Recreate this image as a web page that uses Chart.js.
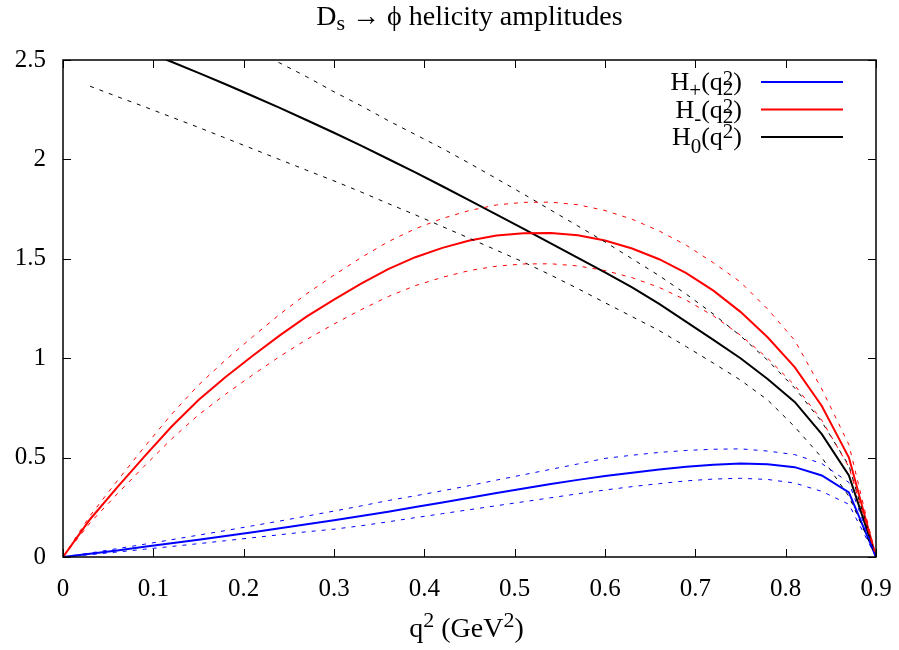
<!DOCTYPE html>
<html>
<head>
<meta charset="utf-8">
<style>
  html, body { margin: 0; padding: 0; background: #fff; }
  #wrap { width: 899px; height: 650px; }
</style>
<script src="https://cdn.jsdelivr.net/npm/chart.js@4/dist/chart.umd.min.js"></script>
</head>
<body>
<div id="wrap"><canvas id="chart" width="899" height="650"></canvas></div>
<script>
// q^2 grid (GeV^2)
const q2 = [0, 0.03, 0.06, 0.09, 0.12, 0.15, 0.18, 0.21, 0.24, 0.27, 0.30,
            0.33, 0.36, 0.39, 0.42, 0.45, 0.48, 0.51, 0.54, 0.57, 0.60,
            0.63, 0.66, 0.69, 0.72, 0.75, 0.78, 0.81, 0.84, 0.87, 0.90];

// H+ (blue) with upper / lower band
const hPlus = [0, 0.016, 0.033, 0.051, 0.069, 0.087, 0.106, 0.125, 0.145, 0.165, 0.185,
               0.206, 0.228, 0.251, 0.274, 0.298, 0.322, 0.345, 0.367, 0.388, 0.407,
               0.424, 0.440, 0.454, 0.464, 0.470, 0.467, 0.452, 0.410, 0.325, 0];
const hPlusHi = [0, 0.020, 0.042, 0.064, 0.087, 0.110, 0.133, 0.157, 0.181, 0.206, 0.231,
                 0.257, 0.284, 0.308, 0.333, 0.359, 0.387, 0.414, 0.441, 0.468, 0.496,
                 0.512, 0.526, 0.536, 0.542, 0.544, 0.533, 0.515, 0.470, 0.375, 0];
const hPlusLo = [0, 0.012, 0.025, 0.039, 0.053, 0.067, 0.082, 0.097, 0.112, 0.127, 0.140,
                 0.157, 0.177, 0.198, 0.218, 0.238, 0.258, 0.278, 0.298, 0.318, 0.337,
                 0.354, 0.369, 0.383, 0.392, 0.396, 0.390, 0.372, 0.330, 0.265, 0];

// H- (red)
const hMinus = [0, 0.190, 0.350, 0.505, 0.655, 0.790, 0.905, 1.012, 1.115, 1.210, 1.295,
                1.375, 1.448, 1.508, 1.555, 1.592, 1.617, 1.629, 1.630, 1.618, 1.592,
                1.552, 1.498, 1.428, 1.340, 1.233, 1.105, 0.955, 0.760, 0.500, 0];
const hMinusHi = [0, 0.208, 0.383, 0.553, 0.717, 0.865, 0.991, 1.108, 1.221, 1.325, 1.418,
                  1.506, 1.586, 1.651, 1.703, 1.743, 1.771, 1.784, 1.785, 1.772, 1.743,
                  1.699, 1.640, 1.568, 1.480, 1.383, 1.247, 1.090, 0.845, 0.565, 0];
const hMinusLo = [0, 0.172, 0.317, 0.457, 0.593, 0.715, 0.819, 0.916, 1.009, 1.095, 1.172,
                  1.244, 1.310, 1.365, 1.407, 1.441, 1.463, 1.474, 1.475, 1.464, 1.441,
                  1.405, 1.356, 1.292, 1.213, 1.116, 1.000, 0.864, 0.688, 0.453, 0];

// H0 (black)
const hZero = [2.700, 2.648, 2.597, 2.545, 2.491, 2.435, 2.378, 2.319, 2.259, 2.197, 2.134,
               2.069, 2.002, 1.935, 1.865, 1.794, 1.722, 1.651, 1.578, 1.505, 1.432,
               1.356, 1.273, 1.183, 1.092, 1.000, 0.895, 0.780, 0.618, 0.410, 0];
const hZeroHi = [3.02, 2.95, 2.89, 2.82, 2.76, 2.69, 2.62, 2.555, 2.485, 2.415, 2.34,
                 2.27, 2.195, 2.125, 2.055, 1.98, 1.903, 1.825, 1.745, 1.665, 1.585,
                 1.500, 1.415, 1.322, 1.222, 1.112, 0.990, 0.850, 0.680, 0.460, 0];
const hZeroLo = [null, 2.368, 2.316, 2.265, 2.213, 2.161, 2.107, 2.053, 1.999, 1.945, 1.892,
                 1.836, 1.778, 1.721, 1.662, 1.603, 1.543, 1.483, 1.418, 1.350, 1.279,
                 1.209, 1.139, 1.058, 0.975, 0.890, 0.790, 0.655, 0.500, 0.305, 0];

const xTicks = [0, 0.1, 0.2, 0.3, 0.4, 0.5, 0.6, 0.7, 0.8, 0.9];
const yTicks = [0, 0.5, 1, 1.5, 2, 2.5];
const xTickLabels = ["0", "0.1", "0.2", "0.3", "0.4", "0.5", "0.6", "0.7", "0.8", "0.9"];
const yTickLabels = ["0", "0.5", "1", "1.5", "2", "2.5"];

const FONT = "'Liberation Serif', 'Times New Roman', serif";
const BLUE = "#0000ff", RED = "#ff0000", BLACK = "#000000";

const pts = ys => q2.map((x, i) => ({ x: x, y: ys[i] }));

function solid(label, ys, color) {
    return { label: label, data: pts(ys), borderColor: color, borderWidth: 2, clip: 0 };
}
function dashed(ys, color) {
    return { label: "", data: pts(ys), borderColor: color, borderWidth: 1, borderDash: [4, 6], clip: 0 };
}

// text run made of pieces: {t, size, dy} or {stack:[sup, sub], size, up, down}
function drawPieces(ctx, pieces, x, y, align) {
    const widthOf = p => {
        ctx.font = p.size + "px " + FONT;
        if (p.stack) return Math.max(...p.stack.map(s => ctx.measureText(s).width));
        return ctx.measureText(p.t).width;
    };
    const total = pieces.reduce((s, p) => s + widthOf(p), 0);
    let cx = align === "right" ? x - total : align === "center" ? x - total / 2 : x;
    ctx.fillStyle = "#000";
    ctx.textBaseline = "alphabetic";
    ctx.textAlign = "left";
    pieces.forEach(p => {
        const w = widthOf(p);
        ctx.font = p.size + "px " + FONT;
        if (p.stack) {
            ctx.fillText(p.stack[0], cx, y + p.up);
            ctx.fillText(p.stack[1], cx, y + p.down);
        } else {
            ctx.fillText(p.t, cx, y + (p.dy || 0));
        }
        cx += w;
    });
}

const titlePieces = [
    { t: "D", size: 28 }, { t: "s", size: 22, dy: 5 },
    { t: " \u2192 \u03d5 helicity amplitudes", size: 28 }
];
const xTitlePieces = [
    { t: "q", size: 28 }, { t: "2", size: 22, dy: -10 },
    { t: " (GeV", size: 28 }, { t: "2", size: 22, dy: -10 }, { t: ")", size: 28 }
];
const legendRows = [
    { color: BLUE, pieces: [{ t: "H", size: 26 }, { t: "+", size: 21, dy: 7 }, { t: "(q", size: 26 },
                            { stack: ["2", "2"], size: 21, up: -5, down: 5 }, { t: ")", size: 26 }] },
    { color: RED, pieces: [{ t: "H", size: 26 }, { t: "-", size: 21, dy: 7 }, { t: "(q", size: 26 },
                           { stack: ["2", "2"], size: 21, up: -5, down: 5 }, { t: ")", size: 26 }] },
    { color: BLACK, pieces: [{ t: "H", size: 26 }, { t: "0", size: 21, dy: 8 }, { t: "(q", size: 26 },
                             { t: "2", size: 21, dy: -7 }, { t: ")", size: 26 }] }
];

const decorations = {
    id: "decorations",
    afterDraw(chart) {
        const ctx = chart.ctx;
        const a = chart.chartArea;
        const xs = chart.scales.x, ys = chart.scales.y;
        ctx.save();
        // frame
        ctx.strokeStyle = "#000";
        ctx.lineWidth = 1.5;
        ctx.strokeRect(a.left, a.top, a.right - a.left, a.bottom - a.top);
        // inward ticks on all four sides
        ctx.lineWidth = 1;
        ctx.beginPath();
        xTicks.forEach(v => {
            const px = Math.round(xs.getPixelForValue(v)) + 0.5;
            ctx.moveTo(px, a.bottom); ctx.lineTo(px, a.bottom - 8);
            ctx.moveTo(px, a.top); ctx.lineTo(px, a.top + 8);
        });
        yTicks.forEach(v => {
            const py = Math.round(ys.getPixelForValue(v)) + 0.5;
            ctx.moveTo(a.left, py); ctx.lineTo(a.left + 8, py);
            ctx.moveTo(a.right, py); ctx.lineTo(a.right - 8, py);
        });
        ctx.stroke();

        const cx = (a.left + a.right) / 2;
        drawPieces(ctx, titlePieces, cx, 25, "center");
        drawPieces(ctx, xTitlePieces, cx - 3, 637, "center");

        // key
        legendRows.forEach((row, i) => {
            const y = 82 + i * 27.5;
            drawPieces(ctx, row.pieces, 742, y + 8, "right");
            ctx.strokeStyle = row.color;
            ctx.lineWidth = 2;
            ctx.beginPath();
            ctx.moveTo(761, y); ctx.lineTo(843, y);
            ctx.stroke();
        });
        ctx.restore();
    }
};

new Chart(document.getElementById("chart"), {
    type: "line",
    data: {
        datasets: [
            dashed(hPlusHi, BLUE), dashed(hPlusLo, BLUE),
            dashed(hMinusHi, RED), dashed(hMinusLo, RED),
            dashed(hZeroHi, BLACK), dashed(hZeroLo, BLACK),
            solid("H+", hPlus, BLUE), solid("H-", hMinus, RED), solid("H0", hZero, BLACK)
        ]
    },
    options: {
        responsive: false,
        animation: false,
        layout: { padding: { left: 0, right: 23, top: 60, bottom: 0 } },
        elements: { point: { radius: 0 }, line: { tension: 0 } },
        plugins: { legend: { display: false }, tooltip: { enabled: false } },
        scales: {
            x: {
                type: "linear", min: 0, max: 0.9,
                grid: { display: false, drawTicks: false },
                border: { display: false },
                afterBuildTicks: s => { s.ticks = xTicks.map(v => ({ value: v })); },
                afterFit: s => { s.height = 93; s.paddingLeft = 0; s.paddingRight = 0; },
                ticks: {
                    padding: 17, color: "#000",
                    font: { family: FONT, size: 25 },
                    callback: (v, i) => xTickLabels[i]
                }
            },
            y: {
                type: "linear", min: 0, max: 2.5,
                grid: { display: false, drawTicks: false },
                border: { display: false },
                afterBuildTicks: s => { s.ticks = yTicks.map(v => ({ value: v })); },
                afterFit: s => { s.width = 63; s.paddingTop = 0; s.paddingBottom = 0; },
                ticks: {
                    padding: 17, color: "#000",
                    font: { family: FONT, size: 25 },
                    callback: (v, i) => yTickLabels[i]
                }
            }
        }
    },
    plugins: [decorations]
});
</script>
</body>
</html>
